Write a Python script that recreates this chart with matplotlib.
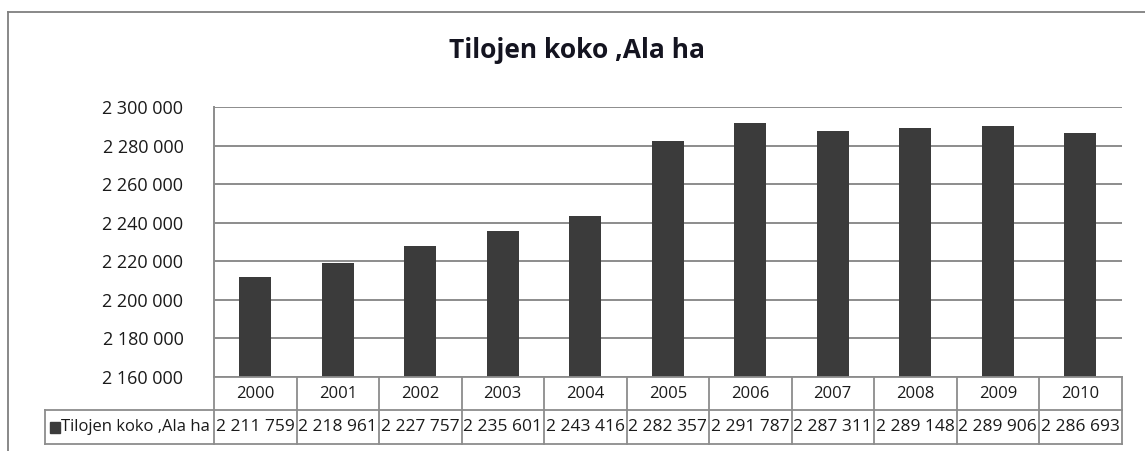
import matplotlib
matplotlib.use("Agg")
import matplotlib.pyplot as plt
from matplotlib.lines import Line2D
from matplotlib.transforms import blended_transform_factory
from matplotlib.ticker import FuncFormatter

years = ["2000", "2001", "2002", "2003", "2004", "2005", "2006", "2007", "2008", "2009", "2010"]
values = [2211759, 2218961, 2227757, 2235601, 2243416, 2282357, 2291787, 2287311, 2289148, 2289906, 2286693]
series_name = "Tilojen koko ,Ala ha"
title = "Tilojen koko ,Ala ha"

W, H = 1145, 451
plt.rcParams['font.family'] = ['Open Sans', 'DejaVu Sans']
fig = plt.figure(figsize=(W / 100, H / 100), dpi=100)

def fx(px):
    return px / W

def fy(py):
    return 1 - py / H

L, R, T, B = 214, 1121.5, 107, 377
ax = fig.add_axes([fx(L), fy(B), fx(R - L), (B - T) / H])
n = len(years)
xs = list(range(n))
ax.bar(xs, values, width=0.39, color='#3b3b3b', zorder=3)
ax.set_xlim(-0.5, n - 0.5)
ax.set_ylim(2160000, 2300000)
ax.set_yticks(range(2160000, 2300001, 20000))
ax.yaxis.set_major_formatter(FuncFormatter(lambda v, p: f"{int(v):,}".replace(",", " ")))
ax.tick_params(axis='y', length=0, pad=22, labelsize=13, colors='#1a1a1a')
ax.set_xticks([])
ax.grid(axis='y', color='#8c8c8c', linewidth=1.4, zorder=0)
for s in ['top', 'right', 'bottom']:
    ax.spines[s].set_visible(False)
ax.spines['left'].set_color('#8c8c8c')
ax.spines['left'].set_linewidth(1.4)

lc = '#8c8c8c'
lw = 1.3
def hline(x0, x1, y):
    fig.add_artist(Line2D([fx(x0), fx(x1)], [fy(y), fy(y)], color=lc, linewidth=lw))
def vline(x, y0, y1):
    fig.add_artist(Line2D([fx(x), fx(x)], [fy(y0), fy(y1)], color=lc, linewidth=lw))

r1, r2, r3 = 377, 410, 444
tleft = 45
hline(L, R, r1)
hline(tleft, R, r2)
hline(tleft, R, r3)
vline(tleft, r2, r3)
vline(L, r1, r3)
cw = (R - L) / n
for k in range(1, n + 1):
    vline(L + cw * k, r1, r3)

tr = blended_transform_factory(ax.transData, fig.transFigure)
for i in range(n):
    ax.text(i, fy((r1 + r2) / 2), years[i], transform=tr, ha='center', va='center',
            fontsize=12, color='#1a1a1a', clip_on=False)
    ax.text(i, fy((r2 + r3) / 2), f"{values[i]:,}".replace(",", " "), transform=tr,
            ha='center', va='center', fontsize=12.5, color='#1a1a1a', clip_on=False)

# legend key + series name
fig.patches.append(plt.Rectangle((fx(50), fy(433)), fx(10), 11 / H, transform=fig.transFigure,
                                 color='#3b3b3b'))
fig.text(fx(61), fy((r2 + r3) / 2), series_name, ha='left', va='center', fontsize=12,
         color='#1a1a1a')

fig.text(fx(577), fy(51), title, ha='center', va='center', fontsize=19, fontweight='bold',
         color='#141420')

# outer border
fig.add_artist(Line2D([fx(8), 1], [fy(12), fy(12)], color='#7f7f7f', linewidth=1.3))
fig.add_artist(Line2D([fx(8), fx(8)], [fy(12), 0], color='#7f7f7f', linewidth=1.3))

fig.savefig("out.png", dpi=100)
